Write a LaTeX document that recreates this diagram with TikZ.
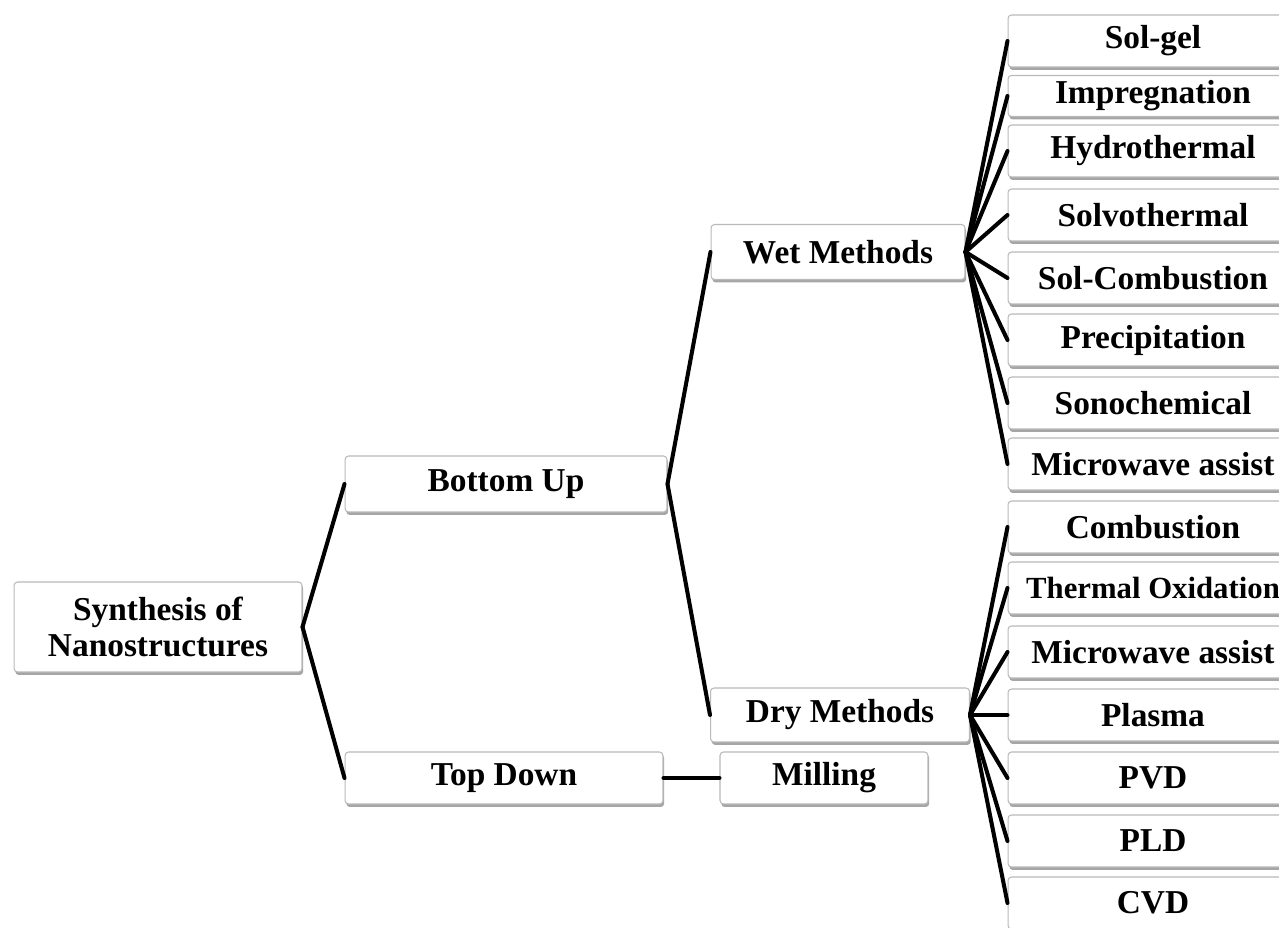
\documentclass[tikz,border=0pt]{standalone}
\usepackage{fontspec}
\setmainfont{Liberation Serif}
\usetikzlibrary{shadows}
\tikzset{
  box/.style={draw=gray!55, line width=0.6pt, rounded corners=2pt, fill=white,
    drop shadow={shadow xshift=0.25mm, shadow yshift=-0.6mm, fill=black, opacity=0.35},
    font=\fontsize{19}{21}\selectfont\bfseries, align=center, inner sep=0pt},
  leafbox/.style={box, minimum width=5.8cm, minimum height=1.04cm},
  link/.style={line width=2.3pt, line cap=round}
}
\begin{document}
\begin{tikzpicture}[x=0.02cm, y=-0.02cm]
		\useasboundingbox (0,0) rectangle (1279,928);
		% main branches
		\node[box, minimum width=5.76cm, minimum height=1.8cm] (syn) at (158,627) {Synthesis of\\Nanostructures};
		\node[box, minimum width=6.44cm, minimum height=1.12cm] (bu) at (506,484) {Bottom Up};
		\node[box, minimum width=6.36cm, minimum height=1.04cm] (td) at (504,778) {Top Down};
		\node[box, minimum width=5.08cm, minimum height=1.1cm] (wet) at (838,252) {Wet Methods};
		\node[box, minimum width=5.18cm, minimum height=1.08cm] (dry) at (840,715) {Dry Methods};
		\node[box, minimum width=4.16cm, minimum height=1.04cm] (mil) at (824,778) {Milling};
		\draw[link] (syn.east) -- (bu.west);
		\draw[link] (syn.east) -- (td.west);
		\draw[link] (bu.east) -- (wet.west);
		\draw[link] (bu.east) -- (dry.west);
		\draw[link] (td.east) -- (mil.west);
		% wet methods
		\foreach \y/\t [count=\i] in {41/Sol-gel, 151/Hydrothermal, 215/Solvothermal,
		  278/Sol-Combustion, 340/Precipitation, 403/Sonochemical, 464/Microwave assist}{
			\node[leafbox] (w\i) at (1153,\y) {\t};
			\draw[link] (wet.east) -- (w\i.west);
		}
		\node[leafbox, minimum height=0.82cm] (imp) at (1153,96) {Impregnation};
		\draw[link] (wet.east) -- (imp.west);
		% dry methods
		\foreach \y/\t [count=\i] in {527/Combustion, 652/Microwave assist, 715/Plasma,
		  778/PVD, 841/PLD, 903/CVD}{
			\node[leafbox] (d\i) at (1153,\y) {\t};
			\draw[link] (dry.east) -- (d\i.west);
		}
		\node[leafbox, font=\fontsize{17.5}{20}\selectfont\bfseries] (tox) at (1153,588) {Thermal Oxidation};
		\draw[link] (dry.east) -- (tox.west);
	\end{tikzpicture}
\end{document}
